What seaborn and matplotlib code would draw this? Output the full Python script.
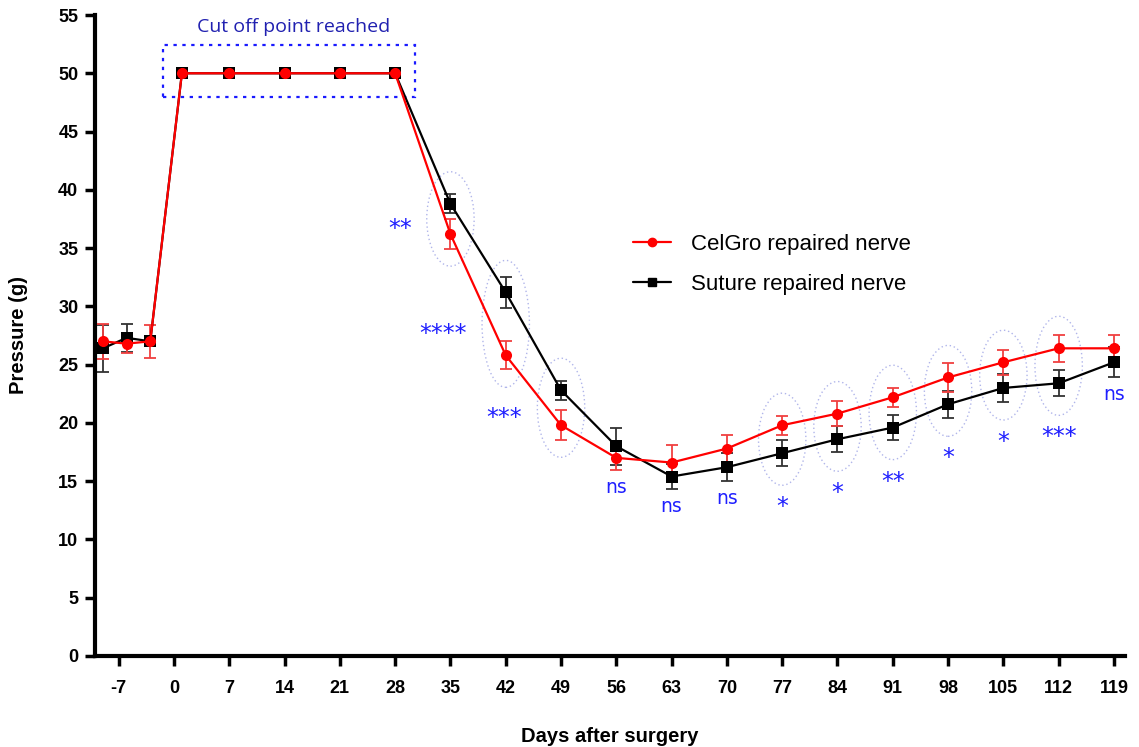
import numpy as np
import pandas as pd
import seaborn as sns
import matplotlib
matplotlib.use("Agg")
import matplotlib.pyplot as plt
from matplotlib.patches import Ellipse, Rectangle
from matplotlib.lines import Line2D

# ---------------- data ----------------
days = [-9, -6, -3, 1, 7, 14, 21, 28, 35, 42, 49, 56, 63, 70, 77, 84, 91, 98, 105, 112, 119]
celgro_mean = [27.0, 26.8, 27.0, 50, 50, 50, 50, 50, 36.2, 25.8, 19.8, 17.0, 16.6, 17.8, 19.8, 20.8, 22.2, 23.9, 25.2, 26.4, 26.4]
celgro_err = [1.5, 0.8, 1.4, 0, 0, 0, 0, 0, 1.3, 1.2, 1.3, 1.0, 1.5, 1.2, 0.8, 1.1, 0.8, 1.25, 1.05, 1.15, 1.15]
suture_mean = [26.4, 27.3, 27.0, 50, 50, 50, 50, 50, 38.8, 31.2, 22.8, 18.0, 15.4, 16.2, 17.4, 18.6, 19.6, 21.6, 23.0, 23.4, 25.2]
suture_err = [2.0, 1.2, 0.3, 0, 0, 0, 0, 0, 0.8, 1.3, 0.8, 1.6, 1.1, 1.2, 1.1, 1.1, 1.1, 1.15, 1.2, 1.1, 1.3]

series_names = ["CelGro repaired nerve", "Suture repaired nerve"]
x_ticks = [-7, 0, 7, 14, 21, 28, 35, 42, 49, 56, 63, 70, 77, 84, 91, 98, 105, 112, 119]
y_ticks = [0, 5, 10, 15, 20, 25, 30, 35, 40, 45, 50, 55]

sig_days = [35, 42, 49, 56, 63, 70, 77, 84, 91, 98, 105, 112, 119]
sig_labels = ["**", "****", "***", "ns", "ns", "ns", "*", "*", "**", "*", "*", "***", "ns"]

cutoff_text = "Cut off point reached"
cutoff_days = [1, 28]
cutoff_value = 50

# ---------------- figure ----------------
sns.set_theme(style="ticks")
plt.rcParams["font.family"] = ["Liberation Sans", "DejaVu Sans"]
plt.rcParams["axes.unicode_minus"] = False
plt.rcParams["text.color"] = "black"
plt.rcParams["xtick.color"] = "black"
plt.rcParams["ytick.color"] = "black"
plt.rcParams["axes.labelcolor"] = "black"

fig = plt.figure(figsize=(11.39, 7.47), dpi=100)
ax = fig.add_axes([95 / 1139, 1 - 656 / 747, (1125 - 95) / 1139, (656 - 15) / 747])

df = pd.DataFrame({
    "day": days * 2,
    "pressure": celgro_mean + suture_mean,
    "series": [series_names[0]] * len(days) + [series_names[1]] * len(days),
})

RED = "#ff0000"
BLACK = "#000000"
SIG_BLUE = "#1f1fff"

# error bars
ax.errorbar(days, suture_mean, yerr=suture_err, fmt="none", ecolor="#333333",
            elinewidth=1.3, capsize=4, capthick=1.3, zorder=2)
ax.errorbar(days, celgro_mean, yerr=celgro_err, fmt="none", ecolor="#f04040",
            elinewidth=1.3, capsize=4, capthick=1.3, zorder=3)

sns.lineplot(data=df, x="day", y="pressure", hue="series", style="series",
             hue_order=series_names[::-1], style_order=series_names[::-1],
             palette={series_names[0]: RED, series_names[1]: BLACK},
             markers={series_names[0]: "o", series_names[1]: "s"},
             dashes=False, markersize=8, markeredgewidth=0, linewidth=1.6,
             ax=ax, legend=False, zorder=4)

# ellipses around significant pairs + significance labels
c_arr = np.array(celgro_mean)
s_arr = np.array(suture_mean)
for d, lab in zip(sig_days, sig_labels):
    i = days.index(d)
    center = (c_arr[i] + s_arr[i]) / 2
    diff = abs(c_arr[i] - s_arr[i])
    h = diff + 5.5
    if lab != "ns":
        ax.add_patch(Ellipse((d, center), width=6.0, height=h, fill=False,
                             edgecolor="#b0b5ea", linestyle=(0, (1, 2)), linewidth=1.0, zorder=1))
        if d < 56:
            ax.text(d - 4.9, center - 0.9, lab, ha="right", va="center",
                    color=SIG_BLUE, fontsize=17, family="DejaVu Sans")
        else:
            ax.text(d, center - h / 2 - 1.9, lab, ha="center", va="center",
                    color=SIG_BLUE, fontsize=17, family="DejaVu Sans")
    else:
        low = min(c_arr[i] - celgro_err[i], s_arr[i] - suture_err[i])
        ax.text(d, low - 1.5, lab, ha="center", va="center",
                color=SIG_BLUE, fontsize=13.5, family="DejaVu Sans")

# cut-off box
ax.add_patch(Rectangle((cutoff_days[0] - 2.4, cutoff_value - 2.0), (cutoff_days[1] - cutoff_days[0]) + 4.9, 4.4,
                       fill=False, edgecolor="#1a1aff", linestyle=(0, (1.5, 2.5)), linewidth=1.6, zorder=1,
                       clip_on=False))
ax.text((cutoff_days[0] + cutoff_days[1]) / 2 + 0.6, cutoff_value + 3.95, cutoff_text, ha="center", va="center",
        color="#2020b0", fontsize=14, family="Open Sans")

# legend
handles = [Line2D([], [], color=RED, marker="o", markersize=6, linewidth=1.6),
           Line2D([], [], color=BLACK, marker="s", markersize=6, linewidth=1.6)]
ax.legend(handles, series_names, loc="upper left", bbox_to_anchor=(0.503, 0.69),
          frameon=False, fontsize=16, handlelength=1.7, handletextpad=0.9, labelspacing=0.85)

# axes styling
ax.set_xlim(-10, 120.4)
ax.set_ylim(0, 55)
ax.set_xticks(x_ticks)
ax.set_yticks(y_ticks)
ax.tick_params(axis="both", length=7, width=2.5, labelsize=13, pad=5, color="black", labelcolor="black")
for lab in ax.get_xticklabels() + ax.get_yticklabels():
    lab.set_fontweight("bold")
ax.tick_params(axis="x", pad=10)
for side in ["left", "bottom"]:
    ax.spines[side].set_linewidth(3)
    ax.spines[side].set_color("black")
for side in ["top", "right"]:
    ax.spines[side].set_visible(False)
ax.set_xlabel("Days after surgery", fontsize=14.5, fontweight="bold", labelpad=22)
ax.set_ylabel("Pressure (g)", fontsize=14.5, fontweight="bold", labelpad=22)
ax.grid(False)

fig.savefig("out.png", dpi=100)
